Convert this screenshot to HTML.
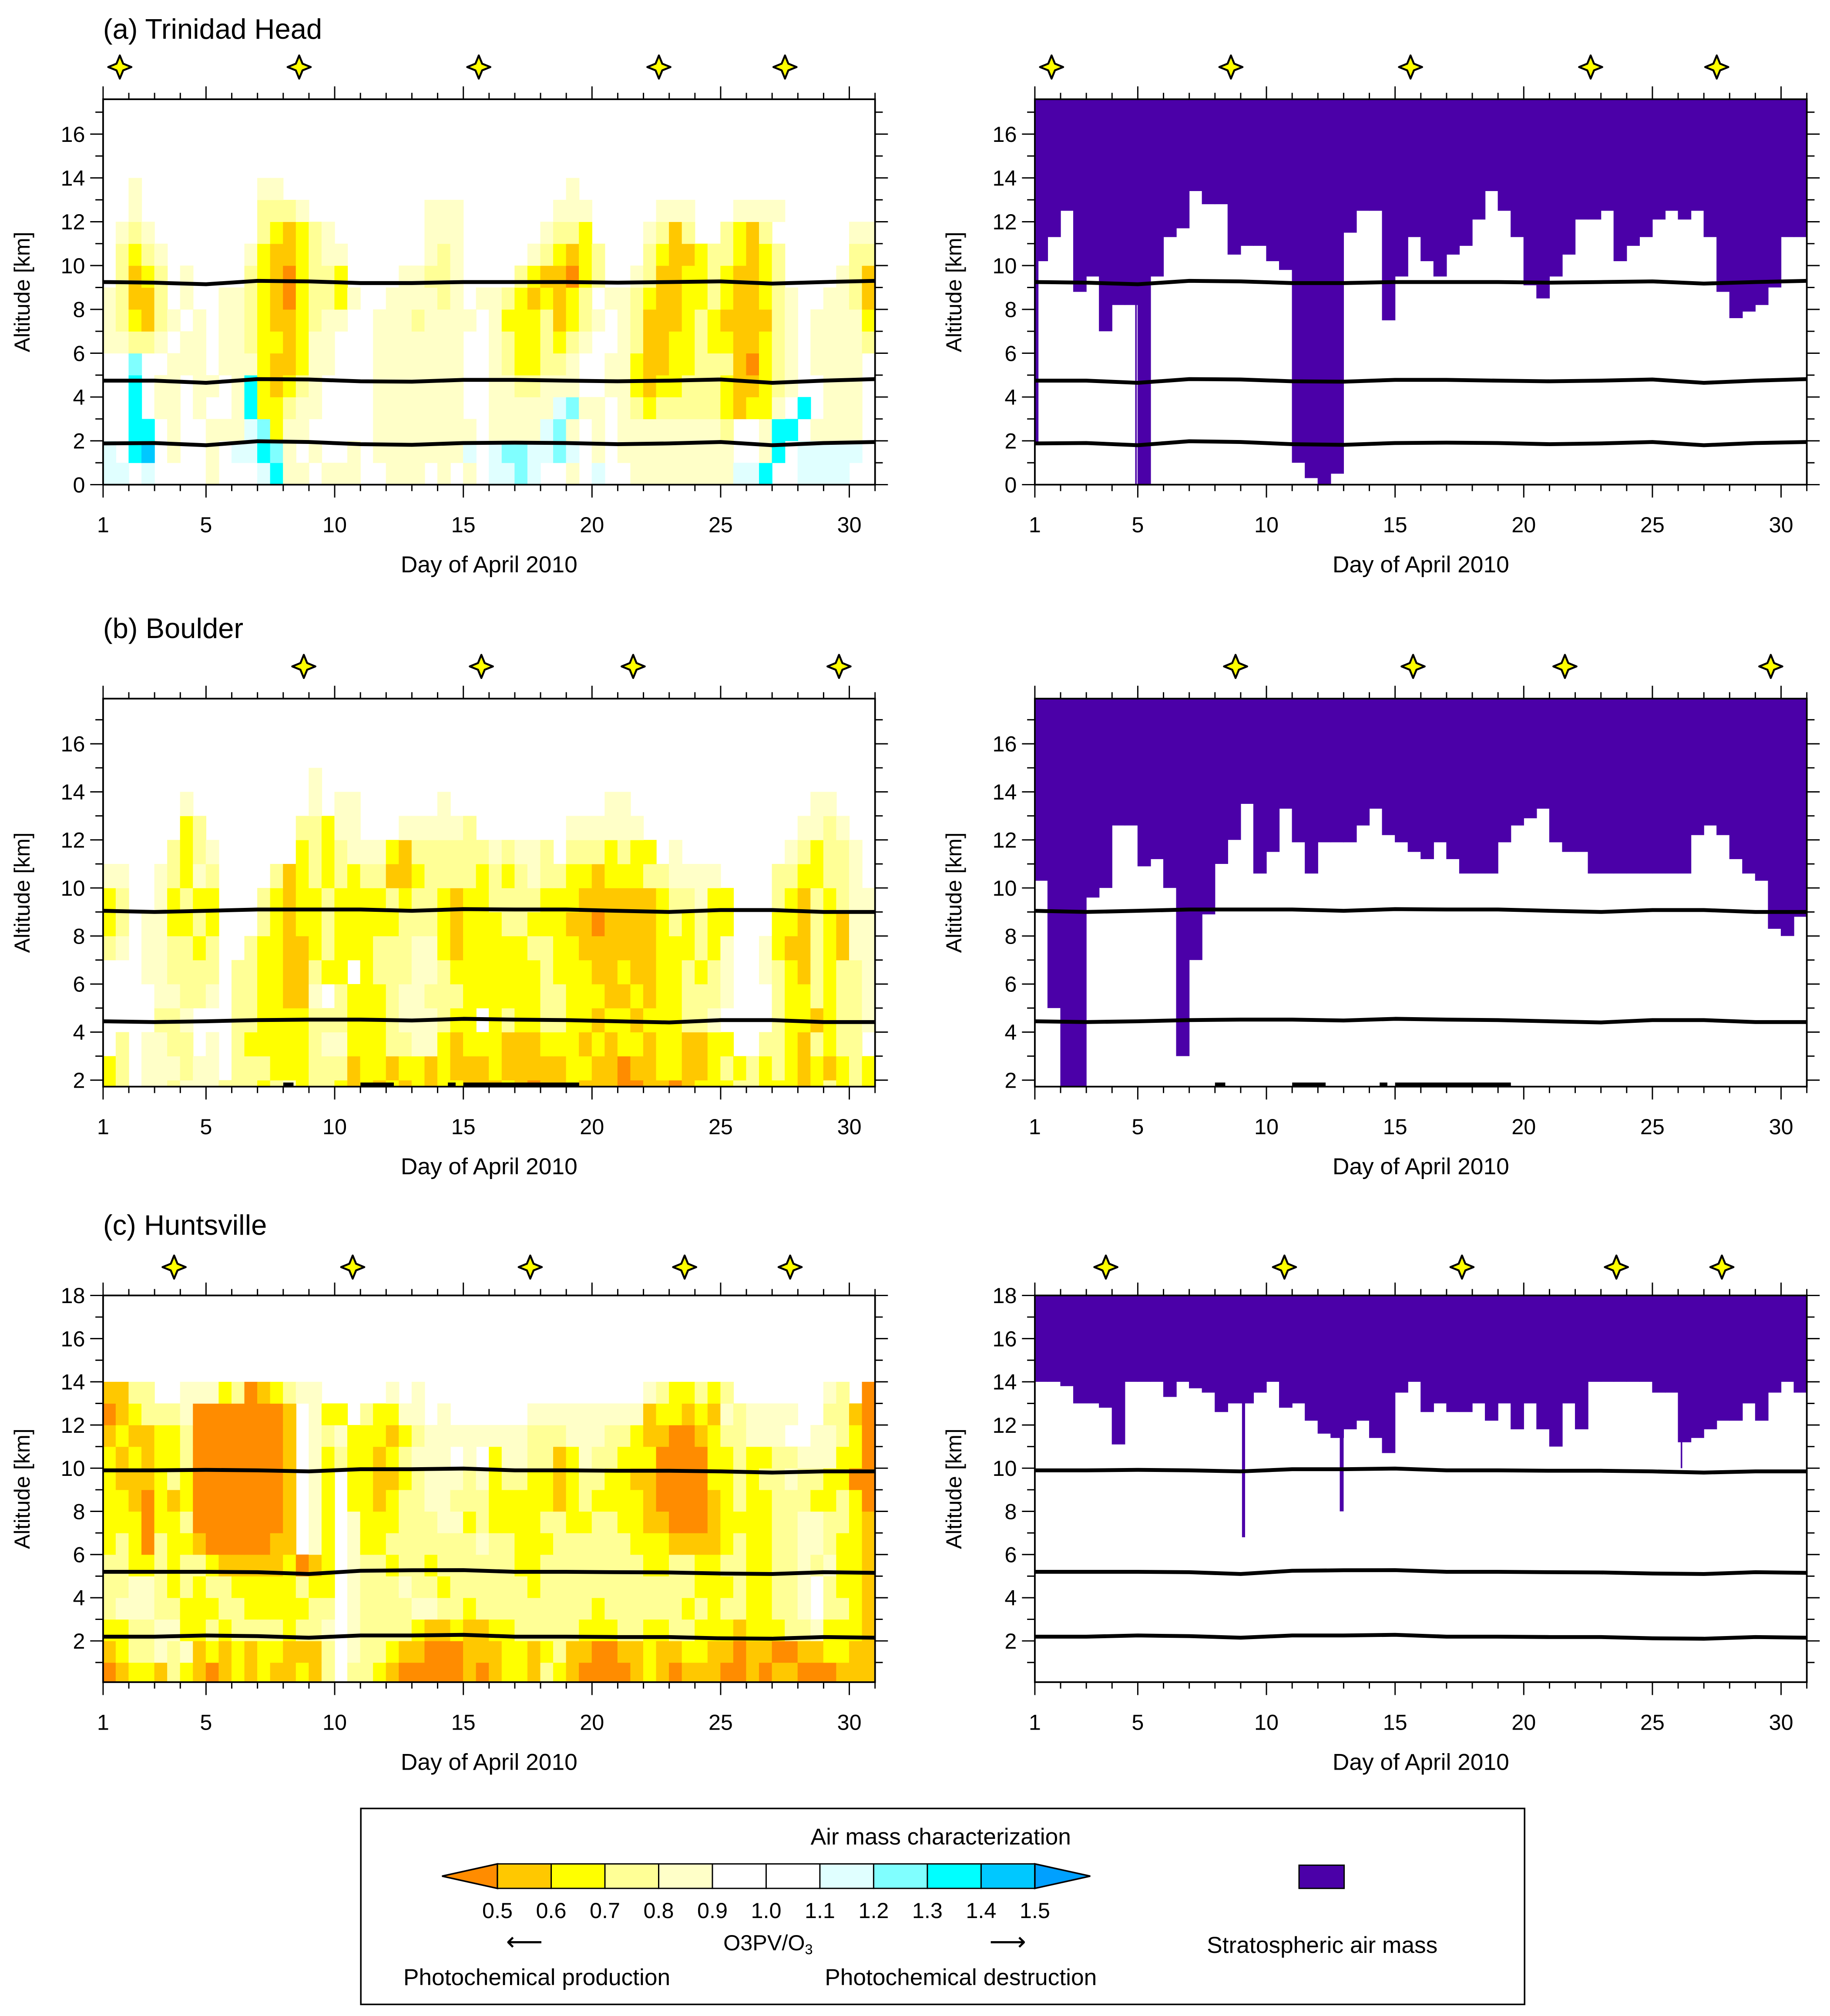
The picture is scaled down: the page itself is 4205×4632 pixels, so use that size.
<!DOCTYPE html>
<html><head><meta charset="utf-8"><style>
html,body{margin:0;padding:0;background:#fff}
svg{display:block}
text{font-family:"Liberation Sans",Arial,sans-serif;fill:#000}
</style></head><body>
<svg id="fig" xmlns="http://www.w3.org/2000/svg" width="4205" height="4632" viewBox="0 0 1420 1564" preserveAspectRatio="none">
<rect width="1420" height="1564" fill="#fff"/>
<g id="root"></g>
<g>
 <rect x="280" y="1403" width="903" height="152" fill="none" stroke="#000" stroke-width="1.2"/>
 <text x="730" y="1431" font-size="18" text-anchor="middle">Air mass characterization</text>
 <g id="cbar"></g>
 <text x="596" y="1513" font-size="17" text-anchor="middle">O3PV/O<tspan font-size="11" dy="3">3</tspan></text>
 <text x="407" y="1513" font-size="20" text-anchor="middle">⟵</text>
 <text x="782" y="1513" font-size="20" text-anchor="middle">⟶</text>
 <text x="313" y="1540" font-size="18">Photochemical production</text>
 <text x="640" y="1540" font-size="18">Photochemical destruction</text>
 <rect x="1008" y="1447" width="35" height="18" fill="#4b00a8" stroke="#000" stroke-width="1"/>
 <text x="1026" y="1515" font-size="18" text-anchor="middle">Stratospheric air mass</text>
</g>
</svg>
<script>
// ---------- DATA ----------
const cbLabels = ["0.5","0.6","0.7","0.8","0.9","1.0","1.1","1.2","1.3","1.4","1.5"];
const classColors = {a:"#ff8c00",b:"#ffc800",c:"#ffff00",d:"#ffff96",e:"#ffffc8",f:"#e0ffff",g:"#80ffff",h:"#00ffff",i:"#00c8ff"};
const titles = ["(a) Trinidad Head","(b) Boulder","(c) Huntsville"];
const xTickDays = [1,5,10,15,20,25,30];
const lineDays = [1,3,5,7,9,11,13,15,17,19,21,23,25,27,29,31];
// heatmap rows: key k = altitude bin [k,k+1]; 6 groups x 10 half-day columns
const heatA = {
 13:["..e.......","..ee......","..........","......e...","..........",".........."],
 12:["..e.......","..ddde....",".....eee..",".....eee..","...eee...e","eee......."],
 11:[".ede......","..dcbcde..",".....eee..","....eddc..","..edbd..dc","bd......ee"],
 10:[".dcde.....",".ecbbcdee.",".....ede..","...edcbcd.","..dcbbcddc","bcd.....dd"],
 9:[".dbcd.e...",".dcbacddc.","...eedde..","..dcbbacd.",".edbbccdcb","bcd....edb"],
 8:["edbbd.e..e","edcbacddce","..eeeede.e","edcbcbcd.e","edcbbccdcb","bcde..eedb"],
 7:["edcbde.e.e","edcbbcdee.",".eeedeeee.","ecccdbcde.","edbbbcdcbb","bbde.eeeec"],
 6:["eedde.ee.e","edccbcee..",".eeeeeee..","edccdcde..","edbbccdccb","bcde.eeeed"],
 5:["..g..eee.e","eecbbcee..",".eeeeeee..","edccdde..e","ecbbccdddb","acde.eeee."],
 4:["..h.ee.ee.","ehcbcde...",".eeeeeee..","eeddeee..e","ecbccdddcb","bcde..eee."],
 3:["..h.ee.e..","ehccdee...",".eeeeeee..","eeeeefgee.","edcdddddcb","cce.h.eee."],
 2:["..hh.e..ee","efgcee....",".eeeeeeee.","eeeefge.e.","eeeeeeeed.",".ehh.eeee."],
 1:["f.hi.e..e.","ffhge.e..e",".eeeeeeef.","fggffgf.e.","eeeeeeeee.",".eh.fffff."],
 0:["ff.f....e.","..fhee.eee","..eee.e.e.","ffgf..e.f.",".eeeeeeeef","fh..ffff.."]
};
const heatB = {
 14:["..........","......e...","..........","..........","..........",".........."],
 13:["......e...","......e.ee","......e...",".........e","e.........",".....ee..."],
 12:["......cd..",".....ddcee","...eeeeed.","......eeee","ee........","....eede.."],
 11:[".....dcde.",".....cdcde","eecbdddddd","edeed.dddc","dcc.e.....","...edcdde."],
 10:["ee..edced.","...dbcdcdc","ddbbcddddc","dcdeddccbc","ccddeeee..","..ddccdde."],
 9:["cd..ecdcc.","..dcbccdcc","ccdcddcbcc","ddddcccbbb","bbbcddecc.","..dcbdcdee"],
 8:["cd.eeccdc.","..dcbccdcc","cccdddcbcc","cddcccbbab","bbbcdcdcc.","..ccbdcbee"],
 7:["de.eeddcd.",".dccbbcdcc","cdddeecbcc","cccddccbbb","bbbcccdce.",".ecbbdcbee"],
 6:["...eedddd.","ddccbbdcc.","cdddeedccc","ccccdcccbb","cbbccdcde.",".edcbdcdde"],
 5:["....eedde.","ddccbbe.dc","ccdeedddcc","ccccddcccb","bcbccddde.","..dccdcdde"],
 4:["....dde...","ddccccdddc","ccdeeedcc.","cdccddccbc","cbcccdde..","..dccbcdde"],
 3:[".d.eedd.e.","dcccccdeec","ccddeecbcc","cbbbcccbcb","ccbccbbcc.",".ddcbdcdd."],
 2:["cd.eeedee.","dddcccdddb","ccbccbcbbb","cbbbbbccbb","abbccbbcdc","dcdcbcbcdc"],
 1:["cd.eedeeed","ddcdecddcb","cbcbcbccbb","bcbabbcbbb","aabbabcccd","dcccbcdcdc"]
};
const heatC = {
 13:["bbdd..eeec","dabcdee...","..e.e.....","..........","..edccdcd.","......ed.a"],
 12:["abcdddeaaa","aaaab.ecc.","dccee.e...","...eeeeeee","eebccbcbed","eeee..ddba"],
 11:["bcbbccdaaa","aaaab.edec","ccbcdeeeee","eeedddeeed","dcbbaabcdd","eee..eedca"],
 10:["cbcbccdaaa","aaaab.ecdc","cbcdeee.e.","ceeddbcedd","cccaaaaccd","ccddeeecca"],
 9:["cbbbcdcaaa","aaaab.ec.c","cbbcdeeede","cddccbcddc","cbbaaaaccd","cddeddccaa"],
 8:["ccbacbcaaa","aaaab.ec.c","cbcddeeddd","cccccbcdcc","ccbaaaabcd","ccdddccdca"],
 7:["cccaccdaaa","aaaab.ec.e","cccdddeecd","ccccddccdd","ccbbaaabcc","ccddeeddcb"],
 6:["cdcadccbaa","aaabb.ec.e","ccddddddde","ddcccddddd","dcccbbbbcd","ccddeedccb"],
 5:["ddccdcddcb","bbbbcabc.e","ddcddcdddd","ddccdddddd","ddccddccdd","ccddedeccb"],
 4:["ddeedcdcdd","cccccdcc.e","dddeddcddd","dddcdddddd","ddddddcccd","ccdde.dccb"],
 3:["deeeddcccd","dcccccdd.e","ddddeeddcd","ddddddddcd","dddddcdcdd","ccdde.ddcb"],
 2:["ccddeeccdc","ddddcdde.e","ddddcbbcbb","ccdddddccc","ddccddcccb","cccddecccb"],
 1:["bcddedebcb","cbccbbbd.e","ddcbbaaabb","bccbcdbbaa","bbcbbccbba","bbaabbccbb"],
 0:["abccbdcbab","cbcbbcbd.d","dcbaaaaaba","bccbdcbaaa","abcbabbbaa","babbaaabbb"]
};
// stratospheric air mass lower boundary (km) per half-day step
const stratA = [10.2,11.3,12.5,8.8,9.5,7.0,8.2,8.2,0,9.5,11.3,11.7,13.4,12.8,12.8,10.5,10.9,10.9,10.2,9.8,1,0.3,0,0.5,11.5,12.5,12.5,7.5,9.5,11.3,10.2,9.5,10.5,10.9,12.1,13.4,12.5,11.3,9.1,8.5,9.5,10.5,12.1,12.1,12.5,10.2,10.9,11.3,12.1,12.5,12.1,12.5,11.3,8.8,7.6,7.9,8.2,9.0,11.3,11.3];
const stratB = [10.3,5,1.73,1.73,9.6,10.0,12.6,12.6,10.9,11.2,10.0,3,7,8.9,11,12,13.5,10.6,11.5,13.3,11.9,10.6,11.9,11.9,11.9,12.6,13.3,12.2,11.9,11.5,11.2,11.9,11.2,10.6,10.6,10.6,11.9,12.6,12.9,13.3,11.9,11.5,11.5,10.6,10.6,10.6,10.6,10.6,10.6,10.6,10.6,12.2,12.6,12.2,11.2,10.6,10.3,8.3,8.0,8.8];
const stratC = [14,14,13.8,13,13,12.8,11.1,14,14,14,13.3,14,13.7,13.5,12.6,13,13,13.5,14,12.8,13,12.2,11.6,11.4,11.8,12.2,11.4,10.7,13.5,14,12.6,13,12.6,12.6,13,12.2,13,11.8,13,11.8,11,13,11.8,14,14,14,14,14,13.5,13.5,11.2,11.4,11.8,12.2,12.2,13,12.2,13.5,14,13.5];
// narrow intrusions: [day, widthDays, bottomKm]
const intrA = [[1.02,0.12,1.8],[4.9,0.06,0],[5.02,0.05,0.3]];
const intrB = [];
const intrC = [[9.05,0.12,6.8],[12.85,0.15,8.0],[26.1,0.06,10.0]];
// dynamical boundary lines (km) at lineDays
const linesA = [
 [9.25,9.22,9.15,9.3,9.28,9.2,9.2,9.25,9.25,9.25,9.22,9.25,9.28,9.18,9.25,9.3],
 [4.75,4.75,4.65,4.82,4.8,4.72,4.7,4.78,4.78,4.75,4.72,4.75,4.8,4.65,4.75,4.82],
 [1.88,1.9,1.8,1.98,1.95,1.85,1.82,1.9,1.92,1.9,1.85,1.88,1.95,1.8,1.9,1.95]];
const linesB = [
 [9.05,9.0,9.05,9.1,9.1,9.1,9.05,9.12,9.1,9.1,9.05,9.0,9.08,9.08,9.0,9.0],
 [4.45,4.42,4.45,4.5,4.52,4.52,4.48,4.55,4.52,4.5,4.45,4.4,4.5,4.5,4.42,4.42]];
const linesC = [
 [9.9,9.9,9.92,9.9,9.85,9.95,9.95,9.98,9.9,9.9,9.88,9.88,9.85,9.8,9.85,9.85],
 [5.2,5.2,5.2,5.18,5.1,5.25,5.27,5.28,5.2,5.2,5.18,5.17,5.12,5.1,5.18,5.15],
 [2.2,2.2,2.25,2.22,2.15,2.25,2.25,2.28,2.2,2.2,2.18,2.18,2.12,2.1,2.18,2.15]];
const dashB = [[8.0,8.4],[11.0,12.3],[14.4,14.7],[15.0,19.5]];
const starsA = [1.65,8.62,15.6,22.6,27.5];
const starsB = [8.8,15.7,21.6,29.6];
const starsC = [3.76,10.7,17.6,23.6,27.7];

// ---------- RENDER ----------
const NS="http://www.w3.org/2000/svg";
const root=document.getElementById('root');
function mk(tag,attrs,parent){const e=document.createElementNS(NS,tag);for(const k in attrs)e.setAttribute(k,attrs[k]);(parent||root).appendChild(e);return e;}
const rows=[
 {yTop:77,yBot:376,aMin:0,aMax:17.59,ticks:[0,17],labels:[0,2,4,6,8,10,12,14,16],heat:heatA,strat:stratA,intr:intrA,lines:linesA,stars:starsA,title:0,starY:52},
 {yTop:542,yBot:843,aMin:1.73,aMax:17.88,ticks:[2,17],labels:[2,4,6,8,10,12,14,16],heat:heatB,strat:stratB,intr:intrB,lines:linesB,stars:starsB,title:1,starY:517,dash:dashB},
 {yTop:1005,yBot:1305,aMin:0.09,aMax:18,ticks:[1,18],labels:[2,4,6,8,10,12,14,16,18],heat:heatC,strat:stratC,intr:intrC,lines:linesC,stars:starsC,title:2,starY:983}];
const cols=[{x0:80,x1:679},{x0:803,x1:1402}];
rows.forEach((R,ri)=>{
 cols.forEach((C,ci)=>{
  const side=ci===0?'left':'right';
  const g=mk('g',{});
  
  
  const X=d=>C.x0+(d-1)*(C.x1-C.x0)/30;
  const Y=a=>R.yBot-(a-R.aMin)*(R.yBot-R.yTop)/(R.aMax-R.aMin);
  const cid='clip'+ri+ci;
  const cp=mk('clipPath',{id:cid},g);
  mk('rect',{x:C.x0,y:R.yTop,width:C.x1-C.x0,height:R.yBot-R.yTop},cp);
  const dg=mk('g',{'clip-path':'url(#'+cid+')'},g);
  if(ci===0){
   for(const k in R.heat){
    const s=R.heat[k].join('');
    for(let j=0;j<60&&j<s.length;j++){
     const col=classColors[s[j]]; if(!col)continue;
     const kk=+k;
     const r=mk('rect',{x:X(1+0.5*j)-0.2,y:Y(kk+1),width:X(1.5)-X(1)+0.4,height:Y(kk)-Y(kk+1)+0.2,fill:col},dg);
     
     
    }
   }
  } else {
   R.strat.forEach((b,j)=>{
    const r=mk('rect',{x:X(1+0.5*j)-0.2,y:Y(R.aMax),width:X(1.5)-X(1)+0.4,height:Y(Math.max(b,R.aMin))-Y(R.aMax),fill:'#4b00a8'},dg);
    
    
   });
   R.intr.forEach(t=>{
    const r=mk('rect',{x:X(t[0]),y:Y(R.aMax),width:X(1+t[1])-X(1),height:Y(Math.max(t[2],R.aMin))-Y(R.aMax),fill:'#4b00a8'},dg);
    
    
   });
  }
  R.lines.forEach((L,li)=>{
   let d='';L.forEach((v,i)=>{d+=(i?'L':'M')+X(lineDays[i]).toFixed(1)+','+Y(v).toFixed(1);});
   const p=mk('path',{d:d,fill:'none',stroke:'#000','stroke-width':3,'stroke-linejoin':'round'},dg);
   
   
  });
  if(R.dash){R.dash.forEach(s=>{
   const p=mk('line',{x1:X(s[0]),x2:X(s[1]),y1:Y(1.82),y2:Y(1.82),stroke:'#000','stroke-width':3},dg);
   
   
  });}
  const fr=mk('rect',{x:C.x0,y:R.yTop,width:C.x1-C.x0,height:R.yBot-R.yTop,fill:'none',stroke:'#000','stroke-width':1.3},g);
  
  
  for(let d=1;d<=31;d++){
   const maj=xTickDays.includes(d);
   const L=maj?10:5;
   mk('line',{x1:X(d),x2:X(d),y1:R.yBot,y2:R.yBot+L,stroke:'#000','stroke-width':1},g);
   mk('line',{x1:X(d),x2:X(d),y1:R.yTop,y2:R.yTop-L,stroke:'#000','stroke-width':1},g);
  }
  xTickDays.forEach(d=>{
   const t=mk('text',{x:X(d),y:R.yBot+37,'font-size':17,'text-anchor':'middle'},g);
   t.textContent=d;
   
   
  });
  const xt=mk('text',{x:(C.x0+C.x1)/2,y:R.yBot+68,'font-size':18,'text-anchor':'middle'},g);
  xt.textContent='Day of April 2010';
  
  
  for(let a=R.ticks[0];a<=R.ticks[1];a++){
   const maj=a%2===0;const L=maj?10:6;
   mk('line',{x1:C.x0,x2:C.x0-L,y1:Y(a),y2:Y(a),stroke:'#000','stroke-width':1},g);
   mk('line',{x1:C.x1,x2:C.x1+L,y1:Y(a),y2:Y(a),stroke:'#000','stroke-width':1},g);
  }
  R.labels.forEach(a=>{
   const t=mk('text',{x:C.x0-14,y:Y(a)+6,'font-size':17,'text-anchor':'end'},g);
   t.textContent=a;
   
   
  });
  const yc=(R.yTop+R.yBot)/2, yx=C.x0-57;
  const yt=mk('text',{x:yx,y:yc,'font-size':17,'text-anchor':'middle',transform:'rotate(-90 '+yx+' '+yc+')'},g);
  yt.textContent='Altitude [km]';
  
  
  R.stars.forEach(d=>{
   const cx=X(d),cy=R.starY,o=9,i=2.6;
   const p=mk('path',{d:`M${cx},${cy-o}L${cx+i},${cy-i}L${cx+o},${cy}L${cx+i},${cy+i}L${cx},${cy+o}L${cx-i},${cy+i}L${cx-o},${cy}L${cx-i},${cy-i}Z`,fill:'#ffff00',stroke:'#000','stroke-width':1.5,'stroke-linejoin':'round'},g);
   
   
  });
  if(ci===0){
   const tt=mk('text',{x:80,y:R.yTop-47,'font-size':22},g);
   tt.textContent=titles[R.title];
   
   
  }
 });
});
const cb=document.getElementById('cbar');
const bx0=386,bw=41.7,by=1446,bh=19;
const cbColors=["#ffc800","#ffff00","#ffff96","#ffffc8","#ffffff","#ffffff","#e0ffff","#80ffff","#00ffff","#00c8ff"];
mk('path',{d:`M${bx0},${by}L${bx0-43},${by+bh/2}L${bx0},${by+bh}Z`,fill:'#ff8c00',stroke:'#000','stroke-width':1.2},cb);
cbColors.forEach((c,i)=>{
 const r=mk('rect',{x:bx0+i*bw,y:by,width:bw,height:bh,fill:c,stroke:'#000','stroke-width':1},cb);
 
 
});
const bx1=bx0+10*bw;
mk('path',{d:`M${bx1},${by}L${bx1+43},${by+bh/2}L${bx1},${by+bh}Z`,fill:'#00a0ff',stroke:'#000','stroke-width':1.2},cb);
cbLabels.forEach((l,i)=>{
 const t=mk('text',{x:bx0+i*bw,y:1488,'font-size':17,'text-anchor':'middle'},cb);
 t.textContent=l;
 
 
});
</script>
</body></html>
